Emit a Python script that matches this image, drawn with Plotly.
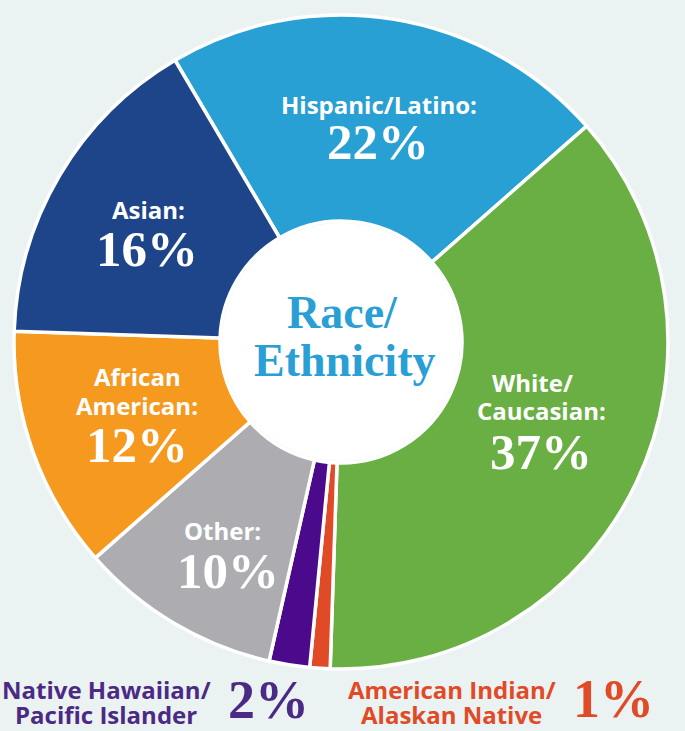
import plotly.graph_objects as go

categories = ["Hispanic/Latino", "White/Caucasian", "American Indian/Alaskan Native",
              "Native Hawaiian/Pacific Islander", "Other", "African American", "Asian"]
values = [22, 37, 1, 2, 10, 12, 16]
colors = ["#29a0d3", "#6aaf44", "#e04a26", "#4b0a8c", "#adadb1", "#f6991f", "#1e4489"]

W, H = 685, 731
SANS = "Open Sans"
SERIF = "Liberation Serif"
CX, CY, R, RH = 341, 342, 327, 121

fig = go.Figure(go.Pie(
    labels=categories, values=values, sort=False, direction="clockwise",
    rotation=-30.5, hole=RH / R, textinfo="none", hoverinfo="label+percent",
    marker=dict(colors=colors, line=dict(color="white", width=3.5)),
    domain=dict(x=[(CX - R) / W, (CX + R) / W], y=[1 - (CY + R) / H, 1 - (CY - R) / H]),
    showlegend=False,
))

def px(x, y):
    return x / W, 1 - y / H

ann = []
def add(text, x, y, size, color, family, bold=True):
    xx, yy = px(x, y)
    ann.append(dict(text=f"<b>{text}</b>" if bold else text, x=xx, y=yy,
                    xref="paper", yref="paper", showarrow=False,
                    xanchor="center", yanchor="middle",
                    font=dict(size=size, color=color, family=family)))

pct = {c: f"{v}%" for c, v in zip(categories, values)}
LS, PS = 24, 51

add("Hispanic/Latino:", 379, 104, LS, "white", SANS)
add(pct["Hispanic/Latino"], 378, 142, PS, "white", SERIF)

add("White/", 532, 383, LS, "white", SANS)
add("Caucasian:", 541, 410, LS, "white", SANS)
add(pct["White/Caucasian"], 541, 452, PS, "white", SERIF)

add("Asian:", 148, 209, LS, "white", SANS)
add(pct["Asian"], 147, 249, PS, "white", SERIF)

add("African", 137, 376, LS, "white", SANS)
add("American:", 137, 405, LS, "white", SANS)
add(pct["African American"], 137, 445, PS, "white", SERIF)

add("Other:", 222, 530, LS, "white", SANS)
add(pct["Other"], 228, 571, PS, "white", SERIF)

add("Race/", 342, 312, 46, "#2a9fd6", SERIF)
add("Ethnicity", 344, 360, 46, "#2a9fd6", SERIF)

add("Native Hawaiian/", 106, 689, LS, "#4b2a85", SANS)
add("Pacific Islander", 106, 714, LS, "#4b2a85", SANS)
add(pct["Native Hawaiian/Pacific Islander"], 268, 700, 54, "#4b2a85", SERIF)

add("American Indian/", 452, 689, LS, "#e04a26", SANS)
add("Alaskan Native", 452, 714, LS, "#e04a26", SANS)
add(pct["American Indian/Alaskan Native"], 613, 699, 54, "#e04a26", SERIF)

hx0, hy0 = px(CX - RH + 2, CY - RH + 2)
hx1, hy1 = px(CX + RH - 2, CY + RH - 2)

fig.update_layout(
    width=W, height=H, margin=dict(l=0, r=0, t=0, b=0),
    paper_bgcolor="#ebf2f2", plot_bgcolor="#ebf2f2",
    annotations=ann,
    shapes=[dict(type="circle", xref="paper", yref="paper", x0=hx0, x1=hx1, y0=hy1, y1=hy0,
                 fillcolor="white", line=dict(width=0), layer="below")],
)

fig.write_html("out.html", config={"displayModeBar": False},
               post_script="document.body.style.margin='0';document.body.style.background='#ebf2f2';")
